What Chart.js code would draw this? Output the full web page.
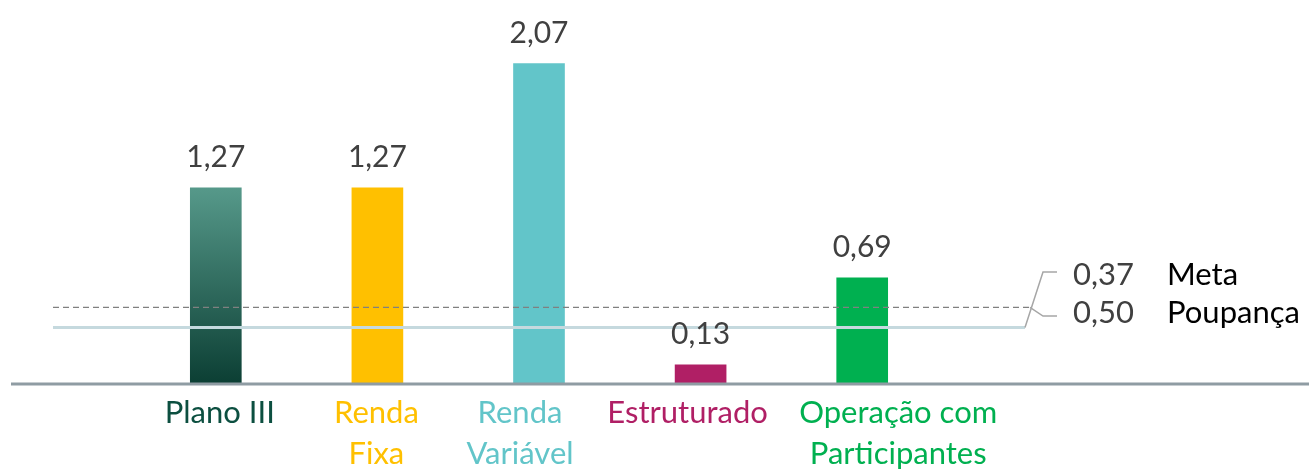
<!DOCTYPE html>
<html>
<head>
<meta charset="utf-8">
<script src="https://cdn.jsdelivr.net/npm/chart.js@4/dist/chart.umd.min.js"></script>
<style>
  html, body { margin: 0; padding: 0; background: #ffffff; }
  #wrap { width: 1309px; height: 471px; position: relative; }
</style>
</head>
<body>
<div id="wrap"><canvas id="c" width="1309" height="471"></canvas></div>
<script>
// ---- data ----
const categories = [["Plano III"], ["Renda", "Fixa"], ["Renda", "Variável"], ["Estruturado"], ["Operação com", "Participantes"]];
const values = [1.27, 1.27, 2.07, 0.13, 0.69];
const barColors = ["#2e7264", "#FFC000", "#62C5C9", "#B01F65", "#00B050"];
const labelColors = ["#0C4F40", "#FFC000", "#62C5C9", "#B01F65", "#00B050"];
const refNames = ["Meta", "Poupança"];
const refValues = [0.37, 0.50];

// label placement tweaks (styling only)
const labelShift = [4, -1, -19, -13, 36];

const fmt = v => v.toFixed(2).replace('.', ',');
const FONT = "Lato, 'Open Sans', sans-serif";

const plugin = {
  id: 'extras',
  afterDatasetsDraw(chart) {
    const ctx = chart.ctx;
    const y = chart.scales.y;
    const x = chart.scales.x;
    const meta = chart.getDatasetMeta(0);
    const base = y.getPixelForValue(0);
    ctx.save();
    // axis line across the full width
    ctx.strokeStyle = '#8F9CA3';
    ctx.lineWidth = 3;
    ctx.beginPath();
    ctx.moveTo(11, base - 1);
    ctx.lineTo(1309, base - 1);
    ctx.stroke();

    const yMeta = y.getPixelForValue(refValues[0]);
    const yPoup = y.getPixelForValue(refValues[1]);
    // Meta solid line
    ctx.strokeStyle = '#C5D9DE';
    ctx.lineWidth = 3;
    ctx.beginPath();
    ctx.moveTo(53, yMeta);
    ctx.lineTo(1025, yMeta);
    ctx.stroke();
    // Poupança dashed line
    ctx.strokeStyle = '#808080';
    ctx.lineWidth = 1.3;
    ctx.setLineDash([6, 4]);
    ctx.beginPath();
    ctx.moveTo(53, yPoup);
    ctx.lineTo(1030, yPoup);
    ctx.stroke();
    ctx.setLineDash([]);

    // connectors
    const conY = [272, 316];
    const labY = [285, 323];
    ctx.strokeStyle = '#A6A6A6';
    ctx.lineWidth = 1.5;
    ctx.beginPath();
    ctx.moveTo(1025, yMeta);
    ctx.lineTo(1043, conY[0]);
    ctx.lineTo(1057, conY[0]);
    ctx.stroke();
    ctx.beginPath();
    ctx.moveTo(1030, yPoup);
    ctx.lineTo(1043, conY[1]);
    ctx.lineTo(1057, conY[1]);
    ctx.stroke();

    // category labels
    ctx.font = "31px " + FONT;
    ctx.textAlign = 'center';
    ctx.textBaseline = 'alphabetic';
    categories.forEach((lines, i) => {
      ctx.fillStyle = labelColors[i];
      const cx = x.getPixelForValue(i) + labelShift[i];
      lines.forEach((t, k) => ctx.fillText(t, cx, base + 37.5 + k * 41));
    });

    // value labels
    ctx.font = "30px " + FONT;
    ctx.fillStyle = '#404040';
    meta.data.forEach((bar, i) => {
      ctx.fillText(fmt(values[i]), bar.x, bar.y - 21);
    });

    // right labels
    ctx.font = "31px " + FONT;
    ctx.textAlign = 'left';
    for (let i = 0; i < 2; i++) {
      ctx.fillStyle = '#404040';
      ctx.fillText(fmt(refValues[i]), 1073, labY[i]);
      ctx.fillStyle = '#000000';
      ctx.fillText(refNames[i], 1167, labY[i]);
    }
    ctx.restore();
  }
};

new Chart(document.getElementById('c'), {
  type: 'bar',
  data: {
    labels: categories,
    datasets: [{
      data: values,
      backgroundColor: (c) => {
        if (c.index === 0 && c.chart.chartArea) {
          const y = c.chart.scales.y;
          const g = c.chart.ctx.createLinearGradient(0, y.getPixelForValue(values[0]), 0, y.getPixelForValue(0));
          g.addColorStop(0, '#56998A');
          g.addColorStop(1, '#0B3E33');
          return g;
        }
        return barColors[c.index];
      },
      borderWidth: 0,
      barThickness: 51
    }]
  },
  options: {
    responsive: false,
    animation: false,
    events: [],
    layout: { padding: { left: 135, right: 366, top: 15, bottom: 0 } },
    plugins: { legend: { display: false }, tooltip: { enabled: false } },
    scales: {
      x: {
        grid: { display: false },
        border: { display: false },
        afterFit: (s) => { s.height = 86; },
        ticks: { display: false }
      },
      y: {
        display: false,
        min: 0,
        max: 2.383
      }
    }
  },
  plugins: [plugin]
});
</script>
</body>
</html>
